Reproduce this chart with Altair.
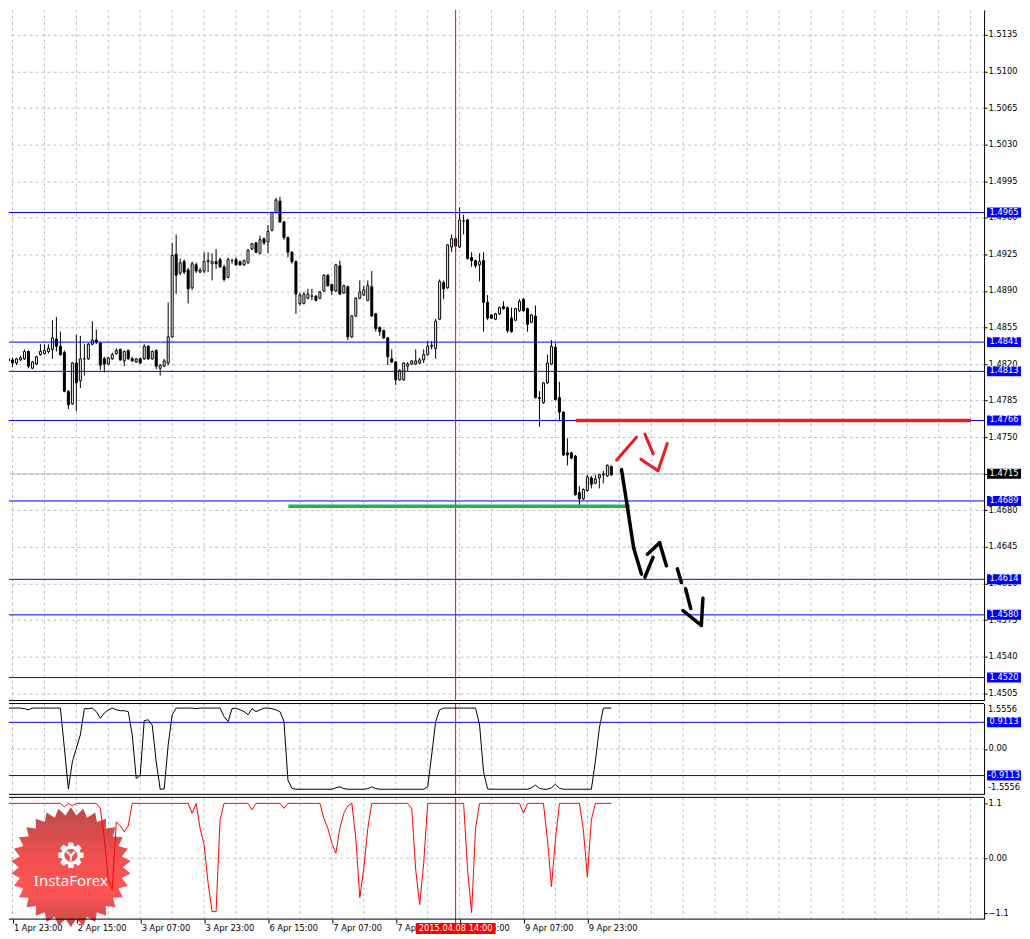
import json
import math
import altair as alt
import pandas as pd

# ---------------- data ----------------
OPEN = [
    1.4828, 1.4825, 1.4824, 1.4821, 1.4824, 1.4825, 1.4832, 1.4816, 1.4820, 1.4829,
    1.4830, 1.4832, 1.4834, 1.4844, 1.4837, 1.4831, 1.4794, 1.4782, 1.4821, 1.4804,
    1.4825, 1.4825, 1.4839, 1.4843, 1.4840, 1.4825, 1.4820, 1.4825, 1.4830, 1.4834,
    1.4823, 1.4833, 1.4825, 1.4822, 1.4825, 1.4825, 1.4837, 1.4825, 1.4833, 1.4816,
    1.4818, 1.4821, 1.4846, 1.4925, 1.4907, 1.4918, 1.4910, 1.4893, 1.4915, 1.4908,
    1.4909, 1.4918, 1.4916, 1.4918, 1.4920, 1.4913, 1.4903, 1.4919, 1.4920, 1.4918,
    1.4915, 1.4917, 1.4930, 1.4936, 1.4926, 1.4940, 1.4937, 1.4948, 1.4965, 1.4976,
    1.4956, 1.4941, 1.4927, 1.4918, 1.4878, 1.4878, 1.4883, 1.4885, 1.4885, 1.4883,
    1.4890, 1.4905, 1.4896, 1.4890, 1.4914, 1.4888, 1.4894, 1.4846, 1.4866, 1.4883,
    1.4886, 1.4881, 1.4894, 1.4868, 1.4855, 1.4852, 1.4845, 1.4825, 1.4822, 1.4805,
    1.4805, 1.4818, 1.4820, 1.4820, 1.4821, 1.4824, 1.4829, 1.4837, 1.4835, 1.4863,
    1.4898, 1.4893, 1.4932, 1.4940, 1.4932, 1.4957, 1.4958, 1.4922, 1.4919, 1.4915,
    1.4919, 1.4879, 1.4867, 1.4863, 1.4868, 1.4875, 1.4874, 1.4864, 1.4862, 1.4871,
    1.4882, 1.4873, 1.4860, 1.4866, 1.4788, 1.4783, 1.4802, 1.4820, 1.4836, 1.4788,
    1.4774, 1.4735, 1.4735, 1.4732, 1.4697, 1.4691, 1.4699, 1.4711, 1.4706, 1.4711,
    1.4714, 1.4713, 1.4722,
]
CLOSE = [
    1.4825, 1.4823, 1.4821, 1.4825, 1.4826, 1.4832, 1.4818, 1.4822, 1.4827, 1.4832,
    1.4833, 1.4835, 1.4845, 1.4837, 1.4829, 1.4794, 1.4781, 1.4821, 1.4802, 1.4825,
    1.4825, 1.4839, 1.4843, 1.4841, 1.4819, 1.4820, 1.4826, 1.4829, 1.4833, 1.4824,
    1.4832, 1.4825, 1.4823, 1.4825, 1.4821, 1.4837, 1.4825, 1.4832, 1.4818, 1.4819,
    1.4823, 1.4846, 1.4924, 1.4905, 1.4917, 1.4908, 1.4892, 1.4916, 1.4909, 1.4910,
    1.4918, 1.4919, 1.4918, 1.4916, 1.4913, 1.4901, 1.4920, 1.4919, 1.4915, 1.4915,
    1.4919, 1.4929, 1.4935, 1.4927, 1.4939, 1.4936, 1.4947, 1.4965, 1.4977, 1.4956,
    1.4941, 1.4927, 1.4918, 1.4887, 1.4886, 1.4887, 1.4887, 1.4885, 1.4881, 1.4889,
    1.4905, 1.4895, 1.4890, 1.4915, 1.4887, 1.4895, 1.4846, 1.4866, 1.4883, 1.4889,
    1.4891, 1.4895, 1.4866, 1.4854, 1.4851, 1.4845, 1.4827, 1.4822, 1.4805, 1.4814,
    1.4821, 1.4820, 1.4823, 1.4823, 1.4824, 1.4829, 1.4837, 1.4838, 1.4861, 1.4899,
    1.4892, 1.4934, 1.4940, 1.4933, 1.4958, 1.4957, 1.4921, 1.4919, 1.4914, 1.4918,
    1.4879, 1.4864, 1.4864, 1.4868, 1.4874, 1.4873, 1.4852, 1.4851, 1.4873, 1.4880,
    1.4871, 1.4858, 1.4867, 1.4788, 1.4787, 1.4802, 1.4821, 1.4837, 1.4786, 1.4774,
    1.4733, 1.4733, 1.4730, 1.4695, 1.4691, 1.4700, 1.4712, 1.4705, 1.4710, 1.4714,
    1.4715, 1.4723, 1.4714,
]
HIGH = [
    1.4831, 1.4827, 1.4826, 1.4826, 1.4828, 1.4834, 1.4833, 1.4823, 1.4828, 1.4839,
    1.4839, 1.4839, 1.4862, 1.4865, 1.4851, 1.4833, 1.4795, 1.4822, 1.4848, 1.4847,
    1.4839, 1.4840, 1.4861, 1.4853, 1.4841, 1.4827, 1.4827, 1.4831, 1.4835, 1.4835,
    1.4833, 1.4834, 1.4827, 1.4826, 1.4826, 1.4839, 1.4838, 1.4833, 1.4834, 1.4820,
    1.4825, 1.4879, 1.4936, 1.4944, 1.4921, 1.4920, 1.4912, 1.4918, 1.4917, 1.4912,
    1.4927, 1.4927, 1.4926, 1.4930, 1.4922, 1.4915, 1.4922, 1.4921, 1.4922, 1.4919,
    1.4920, 1.4930, 1.4936, 1.4937, 1.4943, 1.4941, 1.4953, 1.4966, 1.4979, 1.4980,
    1.4957, 1.4942, 1.4928, 1.4919, 1.4888, 1.4889, 1.4892, 1.4892, 1.4886, 1.4890,
    1.4906, 1.4906, 1.4897, 1.4916, 1.4919, 1.4896, 1.4895, 1.4867, 1.4884, 1.4900,
    1.4895, 1.4900, 1.4909, 1.4869, 1.4856, 1.4853, 1.4846, 1.4834, 1.4823, 1.4815,
    1.4822, 1.4822, 1.4824, 1.4834, 1.4826, 1.4834, 1.4842, 1.4842, 1.4863, 1.4901,
    1.4900, 1.4935, 1.4944, 1.4942, 1.4970, 1.4963, 1.4958, 1.4927, 1.4920, 1.4926,
    1.4927, 1.4886, 1.4868, 1.4869, 1.4875, 1.4880, 1.4875, 1.4874, 1.4874, 1.4882,
    1.4883, 1.4874, 1.4868, 1.4876, 1.4794, 1.4803, 1.4829, 1.4843, 1.4840, 1.4803,
    1.4775, 1.4749, 1.4736, 1.4733, 1.4703, 1.4701, 1.4714, 1.4713, 1.4714, 1.4715,
    1.4718, 1.4724, 1.4723,
]
LOW = [
    1.4822, 1.4822, 1.4817, 1.4819, 1.4823, 1.4824, 1.4816, 1.4815, 1.4819, 1.4828,
    1.4829, 1.4830, 1.4825, 1.4832, 1.4828, 1.4793, 1.4777, 1.4781, 1.4775, 1.4797,
    1.4809, 1.4824, 1.4838, 1.4839, 1.4814, 1.4812, 1.4819, 1.4824, 1.4829, 1.4823,
    1.4818, 1.4824, 1.4822, 1.4821, 1.4820, 1.4824, 1.4824, 1.4824, 1.4815, 1.4809,
    1.4817, 1.4819, 1.4845, 1.4887, 1.4905, 1.4906, 1.4878, 1.4891, 1.4907, 1.4907,
    1.4907, 1.4908, 1.4900, 1.4911, 1.4912, 1.4899, 1.4902, 1.4916, 1.4914, 1.4914,
    1.4914, 1.4916, 1.4929, 1.4926, 1.4925, 1.4934, 1.4926, 1.4947, 1.4964, 1.4955,
    1.4939, 1.4922, 1.4916, 1.4868, 1.4876, 1.4877, 1.4882, 1.4881, 1.4880, 1.4882,
    1.4889, 1.4894, 1.4886, 1.4889, 1.4886, 1.4887, 1.4843, 1.4845, 1.4865, 1.4882,
    1.4885, 1.4880, 1.4865, 1.4851, 1.4847, 1.4844, 1.4819, 1.4821, 1.4800, 1.4804,
    1.4804, 1.4813, 1.4819, 1.4819, 1.4820, 1.4821, 1.4828, 1.4834, 1.4825, 1.4862,
    1.4882, 1.4892, 1.4927, 1.4927, 1.4931, 1.4944, 1.4920, 1.4913, 1.4912, 1.4899,
    1.4851, 1.4862, 1.4863, 1.4862, 1.4867, 1.4872, 1.4850, 1.4850, 1.4861, 1.4870,
    1.4870, 1.4851, 1.4859, 1.4787, 1.4760, 1.4782, 1.4801, 1.4819, 1.4785, 1.4765,
    1.4732, 1.4723, 1.4729, 1.4694, 1.4682, 1.4690, 1.4698, 1.4701, 1.4705, 1.4701,
    1.4706, 1.4712, 1.4713,
]
IND1 = [
    1.40, 1.40, 1.40, 1.40, 1.40, 1.38, 1.34, 1.40, 1.40, 1.40,
    1.40, 1.40, 1.40, 1.40, 1.40, 0.03, -1.37, -0.44, 0.03, 0.48,
    1.38, 1.38, 1.40, 1.28, 1.05, 1.23, 1.34, 1.40, 1.34, 1.31,
    1.31, 1.28, 0.48, -1.01, -0.90, 0.97, 1.00, 0.82, -0.44, -1.38,
    -1.37, 0.14, 1.17, 1.40, 1.40, 1.40, 1.40, 1.40, 1.38, 1.40,
    1.40, 1.40, 1.40, 1.40, 1.40, 1.11, 0.94, 1.38, 1.40, 1.34,
    1.28, 1.17, 1.38, 1.28, 1.34, 1.40, 1.40, 1.38, 1.34, 1.28,
    0.94, -1.07, -1.35, -1.38, -1.38, -1.38, -1.38, -1.38, -1.38, -1.38,
    -1.38, -1.38, -1.38, -1.33, -1.30, -1.36, -1.38, -1.38, -1.38, -1.38,
    -1.38, -1.36, -1.30, -1.36, -1.38, -1.38, -1.38, -1.38, -1.38, -1.38,
    -1.38, -1.38, -1.38, -1.38, -1.38, -1.38, -1.30, -0.21, 0.94, 1.34,
    1.40, 1.40, 1.40, 1.40, 1.40, 1.40, 1.40, 1.40, 1.40, 0.82,
    -0.78, -1.37, -1.38, -1.38, -1.38, -1.38, -1.38, -1.38, -1.38, -1.38,
    -1.38, -1.38, -1.33, -1.24, -1.35, -1.38, -1.38, -1.33, -1.21, -1.35,
    -1.38, -1.38, -1.38, -1.38, -1.38, -1.38, -1.38, -1.38, -0.44, 0.71,
    1.40, 1.40, 1.40,
]
IND2 = [
    1.1, 1.1, 1.1, 1.1, 1.1, 1.1, 1.1, 1.1, 1.1, 1.1,
    1.1, 1.1, 1.1, 1.1, 1.1, 1.03, 1.1, 1.05, 1.1, 1.1,
    1.1, 1.1, 1.1, 1.1, 1.0, 0.4, -0.43, -0.63, 0.73, 0.65,
    0.53, 0.65, 1.1, 1.1, 1.1, 1.1, 1.1, 1.1, 1.1, 1.1,
    1.1, 1.1, 1.1, 1.1, 1.1, 1.1, 1.1, 0.9, 1.1, 0.6,
    0.27, -0.5, -1.07, -1.07, 0.77, 1.1, 1.1, 1.1, 1.1, 1.1,
    1.1, 1.1, 0.97, 1.1, 1.1, 1.1, 1.1, 1.1, 1.1, 1.1,
    1.0, 1.1, 1.1, 1.1, 1.1, 1.1, 1.1, 1.1, 1.1, 1.1,
    0.8, 0.6, 0.3, 0.1, 0.6, 0.9, 1.05, 1.1, 0.4, -0.79,
    -0.2, 0.6, 1.1, 1.1, 1.1, 1.1, 1.1, 1.1, 1.1, 1.1,
    1.1, 1.1, 1.0, -0.23, -0.93, -0.1, 1.1, 1.1, 1.1, 1.1,
    1.1, 1.1, 1.1, 1.1, 1.1, 1.1, -0.23, -1.09, 0.6, 1.1,
    1.1, 1.1, 1.1, 1.1, 1.1, 1.1, 1.1, 1.1, 1.1, 1.1,
    0.9, 1.1, 1.1, 1.1, 1.1, 1.1, 0.37, -0.57, 0.37, 1.1,
    1.1, 1.1, 1.1, 1.1, 1.1, 0.57, -0.37, 0.77, 1.1, 1.1,
    1.1, 1.1, 1.1,
]

TIME_LABELS = ["1 Apr 23:00", "2 Apr 15:00", "3 Apr 07:00", "3 Apr 23:00", "6 Apr 15:00",
               "7 Apr 07:00", "7 Apr 23:00", "8 Apr 15:00", "9 Apr 07:00", "9 Apr 23:00"]
LABEL_BARS = [2, 18, 34, 50, 66, 82, 98, 114, 130, 146]
GRID_BARS = [2, 10, 18, 26, 34, 42, 50, 58, 66, 74, 82, 90, 98, 106, 114, 122, 130, 138,
             146, 154, 162, 170, 178, 186, 194, 202, 210, 218, 226, 234, 242]
PRICE_TICKS = [1.4505, 1.4540, 1.4575, 1.4610, 1.4645, 1.4680, 1.4715, 1.4750, 1.4785, 1.4820,
               1.4855, 1.4890, 1.4925, 1.4960, 1.4995, 1.5030, 1.5065, 1.5100, 1.5135]
BLUE_LEVELS = [1.4965, 1.4841, 1.4813, 1.4766, 1.4689, 1.4614, 1.4580, 1.4520]
BID_PRICE = [1.4715]
MARKER_BAR = [113]
MARKER_TEXT = "2015.04.08 14:00"
IND1_LEVELS = [0.9113, -0.9113]
IND1_RANGE = [1.5556, -1.5556]
IND2_TICKS = [1.1, 0.0, -1.1]

RED_LEVEL = [(143.1, 242.1, 1.4766)]
GREEN_LEVEL = [(71.1, 156.6, 1.4684)]
RED_STROKES = [(153.3, 1.4728, 158.3, 1.4750), (160.4, 1.4753, 162.5, 1.4734),
               (159.4, 1.4729, 163.7, 1.4718), (163.7, 1.4718, 166.0, 1.4744)]
BLACK_STROKES = [(154.55, 1.4719, 155.8, 1.4689), (155.8, 1.4689, 157.6, 1.4644),
                 (157.6, 1.4644, 159.55, 1.4619), (160.4, 1.4616, 162.45, 1.4635),
                 (161.05, 1.4638, 164.1, 1.4649), (164.1, 1.4649, 165.8, 1.4627),
                 (168.55, 1.4624, 169.55, 1.4611), (170.6, 1.4605, 171.9, 1.4586),
                 (169.95, 1.4584, 174.55, 1.4570), (174.55, 1.4570, 174.95, 1.4596)]

# ---------------- layout / style ----------------
W = 977
H_MAIN, H_IND1, H_IND2 = 692, 91, 122
SP = 3
FONT = "DejaVu Sans"
FS = 8.3
GRID = "#c0c0c0"
BLUE = "#0000ff"

xs = alt.Scale(domain=[1.125, 1.125 + W / 4], nice=False, zero=False, padding=0)
ps = alt.Scale(domain=[1.4498, 1.51589], nice=False, zero=False, padding=0)
s1 = alt.Scale(domain=[-1.5556, 1.5556], nice=False, zero=False, padding=0)
s2 = alt.Scale(domain=[-1.22, 1.22], nice=False, zero=False, padding=0)


def star_path(n, r_in):
    pts = []
    for i in range(2 * n):
        ang = math.pi * i / n - math.pi / 2
        r = 1.0 if i % 2 == 0 else r_in
        pts.append(f"{r * math.cos(ang):.4f},{r * math.sin(ang):.4f}")
    return "M" + "L".join(pts) + "Z"


def gear_path(n, r_in):
    pts = []
    for i in range(n):
        a = 2 * math.pi * i / n
        for da, r in [(-0.32, r_in), (-0.19, 1.0), (0.19, 1.0), (0.32, r_in)]:
            pts.append(f"{r * math.cos(a + da):.4f},{r * math.sin(a + da):.4f}")
    return "M" + "L".join(pts) + "Z"


def axis_common(**kw):
    base = dict(orient="right", domain=True, domainColor="black", ticks=True, tickColor="black",
                tickSize=3, labelPadding=1, labelFont=FONT, labelFontSize=FS, labelColor="black",
                labelAlign="left", labelBaseline="middle", title=None, labelOverlap=False,
                labelFlush=False)
    base.update(kw)
    return alt.Axis(**base)


price_axis = axis_common(values=PRICE_TICKS, format=".4f", grid=True, gridColor=GRID,
                         gridDash=[3, 3])
ind1_axis = axis_common(values=[0.0], grid=False, labelExpr="'0.00'")
ind2_axis = axis_common(values=IND2_TICKS, grid=False,
                        labelExpr="datum.value == 0 ? '0.00' : format(datum.value, '.1f')")
label_js = json.dumps(TIME_LABELS).replace('"', "'")
time_axis = alt.Axis(values=LABEL_BARS, orient="bottom", grid=False, domain=False, ticks=True,
                     tickColor="black", tickSize=4, labelAlign="left", labelBaseline="top",
                     labelPadding=0.5, labelOffset=1, labelFont=FONT, labelFontSize=FS,
                     labelColor="black", labelOverlap=False, labelFlush=False, title=None,
                     labelExpr=f"{label_js}[round((datum.value - 2) / 16)]")


def xq(field="bar", axis=None):
    return alt.X(f"{field}:Q", scale=xs, axis=axis)


bars = list(range(len(OPEN)))
candles = pd.DataFrame({"bar": bars, "open": OPEN, "high": HIGH, "low": LOW, "close": CLOSE})
grid_df = pd.DataFrame({"bar": GRID_BARS})
marker_df = pd.DataFrame({"bar": MARKER_BAR, "txt": [MARKER_TEXT]})
one = pd.DataFrame({"a": [0]})


def vgrid(axis=None):
    return alt.Chart(grid_df).mark_rule(color=GRID, strokeDash=[3, 3], strokeWidth=1).encode(
        x=xq(axis=axis))


def red_vline(axis=None):
    return alt.Chart(marker_df).mark_rule(color="#ff0000", strokeWidth=1).encode(x=xq(axis=axis))


def right_boxes(df, yenc, color):
    return alt.Chart(df).mark_rect(color=color, yOffset=-5, y2Offset=5).encode(
        x=alt.value(W + 3), x2=alt.value(W + 37), y=yenc, y2=alt.Y2(yenc.shorthand))


def right_texts(df, yenc):
    return alt.Chart(df).mark_text(color="white", font=FONT, fontSize=FS, align="center",
                                   baseline="middle").encode(
        x=alt.value(W + 20), y=yenc, text="label:N")


# ---------------- main price panel ----------------
def yp(field):
    return alt.Y(f"{field}:Q", scale=ps, axis=price_axis)


bid_df = pd.DataFrame({"price": BID_PRICE, "label": [f"{v:.4f}" for v in BID_PRICE]})
levels_df = pd.DataFrame({"price": BLUE_LEVELS, "label": [f"{v:.4f}" for v in BLUE_LEVELS]})

bid_line = alt.Chart(bid_df).mark_rule(color="#c0c0c0").encode(y=yp("price"))
wicks = alt.Chart(candles).mark_rule(color="black", strokeWidth=1, clip=True).encode(
    x=xq(), y=yp("low"), y2="high:Q")
bodies = alt.Chart(candles).mark_bar(size=2, stroke="black", strokeWidth=1, clip=True).encode(
    x=xq(), y=yp("open"), y2="close:Q",
    fill=alt.condition("datum.close >= datum.open", alt.value("white"), alt.value("black")))
blue_lines = alt.Chart(levels_df).mark_rule(color=BLUE, strokeWidth=1).encode(y=yp("price"))

green_df = pd.DataFrame(GREEN_LEVEL, columns=["x1", "x2", "y"])
red_df = pd.DataFrame(RED_LEVEL, columns=["x1", "x2", "y"])
green_line = alt.Chart(green_df).mark_rule(color="#22b14c", strokeWidth=3.5).encode(
    x=xq("x1"), x2="x2:Q", y=yp("y"))
red_line = alt.Chart(red_df).mark_rule(color="#ed1c24", strokeWidth=3.5).encode(
    x=xq("x1"), x2="x2:Q", y=yp("y"))
rs_df = pd.DataFrame(RED_STROKES, columns=["x1", "y1", "x2", "y2"])
bs_df = pd.DataFrame(BLACK_STROKES, columns=["x1", "y1", "x2", "y2"])
red_strokes = alt.Chart(rs_df).mark_rule(color="#ed1c24", strokeWidth=3, strokeCap="round").encode(
    x=xq("x1"), x2="x2:Q", y=yp("y1"), y2="y2:Q")
black_strokes = alt.Chart(bs_df).mark_rule(color="black", strokeWidth=3.5, strokeCap="round").encode(
    x=xq("x1"), x2="x2:Q", y=yp("y1"), y2="y2:Q")

main_border = alt.Chart(one).mark_rule(color="black").encode(
    x=alt.value(0), x2=alt.value(W), y=alt.value(H_MAIN))

main = alt.layer(
    vgrid(), bid_line, wicks, bodies, blue_lines, red_vline(), green_line, red_line,
    red_strokes, black_strokes, main_border,
    right_boxes(levels_df, yp("price"), BLUE), right_texts(levels_df, yp("price")),
    right_boxes(bid_df, yp("price"), "black"), right_texts(bid_df, yp("price")),
).properties(width=W, height=H_MAIN)

# ---------------- indicator 1 ----------------
def y1(field="v"):
    return alt.Y(f"{field}:Q", scale=s1, axis=ind1_axis)


ind1_df = pd.DataFrame({"bar": bars, "v": IND1})
lv1_df = pd.DataFrame({"v": IND1_LEVELS, "label": [f"{v:.4f}" for v in IND1_LEVELS]})
zero1 = alt.Chart(pd.DataFrame({"v": [0.0]})).mark_rule(color=GRID, strokeDash=[3, 3]).encode(y=y1())
lv1_lines = alt.Chart(lv1_df).mark_rule(color=BLUE).encode(y=y1())
ind1_line = alt.Chart(ind1_df).mark_line(color="black", strokeWidth=1, clip=True).encode(
    x=xq(), y=y1())
ind1_border_top = alt.Chart(one).mark_rule(color="black").encode(
    x=alt.value(0), x2=alt.value(W), y=alt.value(0))
ind1_border_bot = alt.Chart(one).mark_rule(color="black").encode(
    x=alt.value(0), x2=alt.value(W), y=alt.value(H_IND1))
range_top = alt.Chart(pd.DataFrame({"t": [f"{IND1_RANGE[0]:.4f}"]})).mark_text(
    font=FONT, fontSize=FS, color="black", align="left", baseline="middle").encode(
    x=alt.value(W + 4), y=alt.value(6), text="t:N")
range_bot = alt.Chart(pd.DataFrame({"t": [f"{IND1_RANGE[1]:.4f}"]})).mark_text(
    font=FONT, fontSize=FS, color="black", align="left", baseline="middle").encode(
    x=alt.value(W + 4), y=alt.value(H_IND1 - 6), text="t:N")

ind1 = alt.layer(vgrid(), zero1, lv1_lines, red_vline(), ind1_line, ind1_border_top,
                 ind1_border_bot, right_boxes(lv1_df, y1(), BLUE), right_texts(lv1_df, y1()),
                 range_top, range_bot).properties(width=W, height=H_IND1)

# ---------------- indicator 2 (with logo and time axis) ----------------
def y2(field="v"):
    return alt.Y(f"{field}:Q", scale=s2, axis=ind2_axis)


ind2_df = pd.DataFrame({"bar": bars, "v": IND2})
zero2 = alt.Chart(pd.DataFrame({"v": [0.0]})).mark_rule(color=GRID, strokeDash=[3, 3]).encode(y=y2())
burst_fill = alt.Gradient(
    gradient="linear", x1=0, x2=0, y1=0, y2=1,
    stops=[alt.GradientStop(color="#b94a4a", offset=0), alt.GradientStop(color="#f55050", offset=0.45),
           alt.GradientStop(color="#ff5454", offset=0.7), alt.GradientStop(color="#c84a4a", offset=1)])
burst = alt.Chart(one).mark_point(shape=star_path(30, 0.87), size=120 * 120, filled=True,
                                  fill=burst_fill, opacity=1, strokeWidth=0).encode(
    x=alt.value(62), y=alt.value(70))
gear = alt.Chart(one).mark_point(shape=gear_path(8, 0.74), size=26 * 26, filled=True, color="white",
                                 opacity=1, strokeWidth=0).encode(x=alt.value(62), y=alt.value(58))
gear_hole = alt.Chart(one).mark_point(shape="circle", size=13 * 13, filled=True, color="#f25050",
                                      opacity=1, strokeWidth=0).encode(x=alt.value(62), y=alt.value(58))
gear_fig = alt.Chart(one).mark_point(shape="M-0.6,-0.55L0,0.05L0.6,-0.55M0,0.05L0,0.8", size=14 * 14,
                                     filled=False, color="white", strokeWidth=2.2, opacity=1).encode(
    x=alt.value(62), y=alt.value(58))
logo_text = alt.Chart(pd.DataFrame({"t": ["InstaForex"]})).mark_text(
    color="white", font="Noto Sans", fontSize=15, align="center", baseline="middle").encode(
    x=alt.value(62), y=alt.value(84), text="t:N")
red_vline2 = alt.Chart(marker_df).mark_rule(color="#ff0000", strokeWidth=1).encode(
    x=xq(axis=time_axis), y=alt.value(0), y2=alt.value(H_IND2 + 6))
ind2_line = alt.Chart(ind2_df).mark_line(color="#ff0000", strokeWidth=1, clip=True).encode(
    x=xq(axis=time_axis), y=y2())
ind2_border_top = alt.Chart(one).mark_rule(color="black").encode(
    x=alt.value(0), x2=alt.value(W), y=alt.value(0))
ind2_border_bot = alt.Chart(one).mark_rule(color="black").encode(
    x=alt.value(0), x2=alt.value(W), y=alt.value(H_IND2))
marker_box = alt.Chart(marker_df).mark_rect(color="#ff0000", xOffset=-40, x2Offset=40).encode(
    x=xq(axis=time_axis), x2="bar:Q", y=alt.value(H_IND2 + 4), y2=alt.value(H_IND2 + 15))
marker_text = alt.Chart(marker_df).mark_text(color="white", font=FONT, fontSize=FS, align="center",
                                             baseline="middle").encode(
    x=xq(axis=time_axis), y=alt.value(H_IND2 + 9.5), text="txt:N")

ind2 = alt.layer(vgrid(time_axis), zero2, burst, gear, gear_hole, gear_fig, logo_text, red_vline2,
                 ind2_line, ind2_border_top, ind2_border_bot, marker_box, marker_text
                 ).properties(width=W, height=H_IND2)

chart = alt.vconcat(
    main, ind1, ind2, spacing=SP, bounds="flush",
    padding={"left": 0, "top": 0, "right": 0, "bottom": 0},
    background="white",
).resolve_scale(y="independent").configure_view(stroke="transparent")

chart.save("out.html", embed_options={"renderer": "svg", "actions": False})
